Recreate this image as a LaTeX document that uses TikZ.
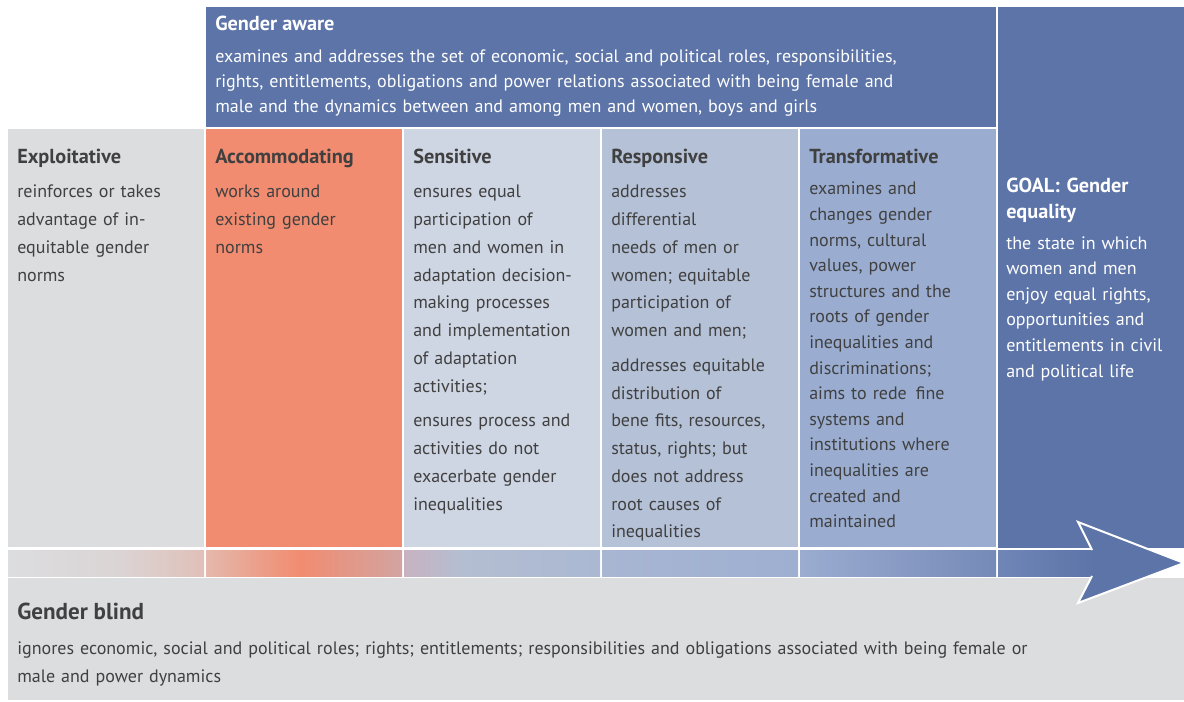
\documentclass[tikz,border=0pt]{standalone}
\usepackage{fontspec}
\setmainfont{PT Sans}

\definecolor{ink}{RGB}{64,64,64}
\definecolor{awareblue}{RGB}{92,116,168}
\definecolor{blindgrey}{RGB}{220,221,223}
\definecolor{salmon}{RGB}{241,140,112}
\definecolor{sensblue}{RGB}{207,214,227}
\definecolor{respblue}{RGB}{181,193,214}
\definecolor{transblue}{RGB}{154,173,209}

\begin{document}
\begin{tikzpicture}[x=0.75pt,y=-0.75pt,
    head/.style={anchor=base west, inner sep=0, text=ink,
      font=\bfseries\fontsize{15.2}{19.5}\selectfont},
    body/.style={anchor=base west, inner sep=0, align=left, text=ink,
      text width=#1, font=\fontsize{13.5}{20.8}\selectfont},
    body/.default=170pt]
  \useasboundingbox (0,0) rectangle (1184,702);

  \fill [awareblue] (206,7) rectangle (996,127);
  \fill [awareblue] (998,7) rectangle (1184,548);
  \fill [blindgrey] (8,129) rectangle (204,547);
  \fill [salmon] (206,129) rectangle (402,547);
  \fill [sensblue] (404,129) rectangle (600,547);
  \fill [respblue] (602,129) rectangle (798,547);
  \fill [transblue] (800,129) rectangle (996,547);
  \fill [blindgrey] (8,578) rectangle (1184,700);

  % band under the columns
  \shade [left color=blindgrey, right color={rgb,255:red,219;green,212;blue,212}] (8,550) rectangle (120,576);
  \shade [left color={rgb,255:red,219;green,212;blue,212}, right color={rgb,255:red,224;green,192;blue,184}] (120,550) rectangle (204,576);
  \shade [left color={rgb,255:red,228;green,184;blue,172}, right color=salmon] (206,550) rectangle (300,576);
  \shade [left color=salmon, right color={rgb,255:red,210;green,164;blue,162}] (300,550) rectangle (402,576);
  \shade [left color={rgb,255:red,200;green,178;blue,192}, right color={rgb,255:red,180;green,190;blue,210}] (404,550) rectangle (460,576);
  \shade [left color={rgb,255:red,180;green,190;blue,210}, right color={rgb,255:red,170;green,184;blue,210}] (460,550) rectangle (600,576);
  \shade [left color={rgb,255:red,168;green,182;blue,210}, right color={rgb,255:red,158;green,175;blue,209}] (602,550) rectangle (798,576);
  \shade [left color={rgb,255:red,155;green,172;blue,208}, right color={rgb,255:red,118;green,138;blue,184}] (800,550) rectangle (996,576);
  \shade [left color={rgb,255:red,112;green,134;blue,183}, right color=awareblue] (998,550) rectangle (1093,576);

  % arrow head
  \fill [awareblue] (1092,550) -- (1078,522) -- (1184,563) -- (1078,603) -- (1092,576) -- cycle;
  \draw [white, line width=1.5pt, miter limit=20] (1092,550) -- (1078,522) -- (1184,563) -- (1078,603) -- (1092,576);

  \node [head, text=white] (aware) at (215,31) {Gender aware};
  \node [body=700pt, text=white, font=\fontsize{13.5}{18.4}\selectfont] (awaretext) at (215,63)
    {examines and addresses the set of economic, social and political roles, responsibilities,\\
     rights, entitlements, obligations and power relations associated with being female and\\
     male and the dynamics between and among men and women, boys and girls};

  \node [head] (exploit) at (17,164) {Exploitative};
  \node [body] (exploittext) at (17,198)
    {reinforces or takes\\advantage of in-\\equitable gender\\norms};

  \node [head] (accom) at (215,164) {Accommodating};
  \node [body] (accomtext) at (215,198)
    {works around\\existing gender\\norms};

  \node [head] (sens) at (413,164) {Sensitive};
  \node [body] (senstext) at (413,198)
    {ensures equal\\participation of\\men and women in\\adaptation decision-\\making processes\\and implementation\\of adaptation\\activities;\\[5.3pt]
     ensures process and\\activities do not\\exacerbate gender\\inequalities};

  \node [head] (resp) at (611,164) {Responsive};
  \node [body] (resptext) at (611,198)
    {addresses\\differential\\needs of men or\\women; equitable\\participation of\\women and men;\\[5.3pt]
     addresses equitable\\distribution of\\bene fits, resources,\\status, rights; but\\does not address\\root causes of\\inequalities};

  \node [head] (trans) at (809,164) {Transformative};
  \node [body, font=\fontsize{13.5}{19.2}\selectfont] (transtext) at (809,195)
    {examines and\\changes gender\\norms, cultural\\values, power\\structures and the\\roots of gender\\inequalities and\\discriminations;\\aims to rede\enspace fine\\systems and\\institutions where\\inequalities are\\created and\\maintained};

  \node [head, text=white, align=left, text width=170pt] (goal) at (1006,193) {GOAL: Gender\\equality};
  \node [body, text=white, font=\fontsize{13.5}{19.2}\selectfont] (goaltext) at (1006,249)
    {the state in which\\women and men\\enjoy equal rights,\\opportunities and\\entitlements in civil\\and political life};

  \node [head, font=\bfseries\fontsize{17.3}{20}\selectfont] (blind) at (17,619) {Gender blind};
  \node [body=900pt, font=\fontsize{13.5}{21}\selectfont] (blindtext) at (17,654)
    {ignores economic, social and political roles; rights; entitlements; responsibilities and obligations associated with being female or\\
     male and power dynamics};
\end{tikzpicture}
\end{document}
